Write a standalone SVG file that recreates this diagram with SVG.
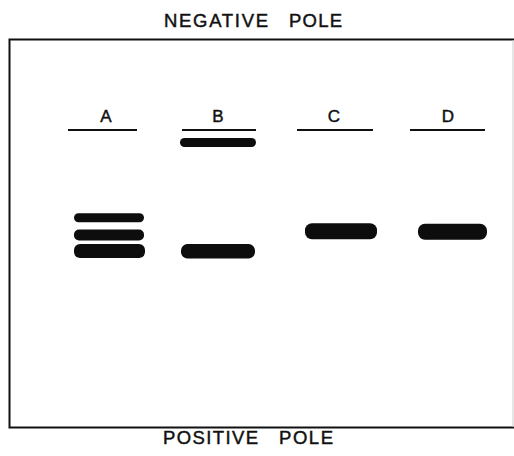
<svg xmlns="http://www.w3.org/2000/svg" width="514" height="456" viewBox="0 0 514 456">
<style>
.t{font-family:"Liberation Sans",Arial,sans-serif;fill:#111;stroke:#111;stroke-width:0.45;}
.pole{font-size:18.5px;}
.lab{font-size:17px;text-anchor:middle;}
.ln{stroke:#111;stroke-width:2;}
.band{fill:#0d0d0d;}
</style>
<rect width="514" height="456" fill="#fff"/>
<g id="gel">
<path d="M514 39.5 H9.5 V427.5 H514" fill="none" stroke="#111" stroke-width="2"/>
<line x1="513" y1="40" x2="513" y2="427" stroke="#ccc" stroke-width="1"/>
</g>
<g id="neg">
<text class="t pole" x="164" y="27" textLength="104" lengthAdjust="spacing">NEGATIVE</text>
<text class="t pole" x="289" y="27" textLength="53" lengthAdjust="spacing">POLE</text>
</g>
<g id="pos">
<text class="t pole" x="163" y="444" textLength="95" lengthAdjust="spacing">POSITIVE</text>
<text class="t pole" x="279" y="444" textLength="54" lengthAdjust="spacing">POLE</text>
</g>
<g id="laneA">
<text class="t lab" x="106" y="122">A</text>
<line class="ln" x1="68" y1="130" x2="137" y2="130"/>
<rect class="band" x="74" y="213.3" width="70" height="9" rx="4.5"/>
<rect class="band" x="74" y="229.5" width="70" height="11" rx="5"/>
<rect class="band" x="74" y="244" width="71" height="14" rx="6"/>
</g>
<g id="laneB">
<text class="t lab" x="218" y="122">B</text>
<line class="ln" x1="182" y1="130" x2="256" y2="130"/>
<rect class="band" x="180" y="138" width="76" height="9" rx="4.5"/>
<rect class="band" x="181" y="244" width="74" height="14.5" rx="6.5"/>
</g>
<g id="laneC">
<text class="t lab" x="334" y="122">C</text>
<line class="ln" x1="297" y1="130" x2="373" y2="130"/>
<rect class="band" x="305" y="223.3" width="72" height="16" rx="7"/>
</g>
<g id="laneD">
<text class="t lab" x="448" y="122">D</text>
<line class="ln" x1="410" y1="130" x2="485" y2="130"/>
<rect class="band" x="418" y="223.7" width="69" height="16" rx="7"/>
</g>
</svg>
